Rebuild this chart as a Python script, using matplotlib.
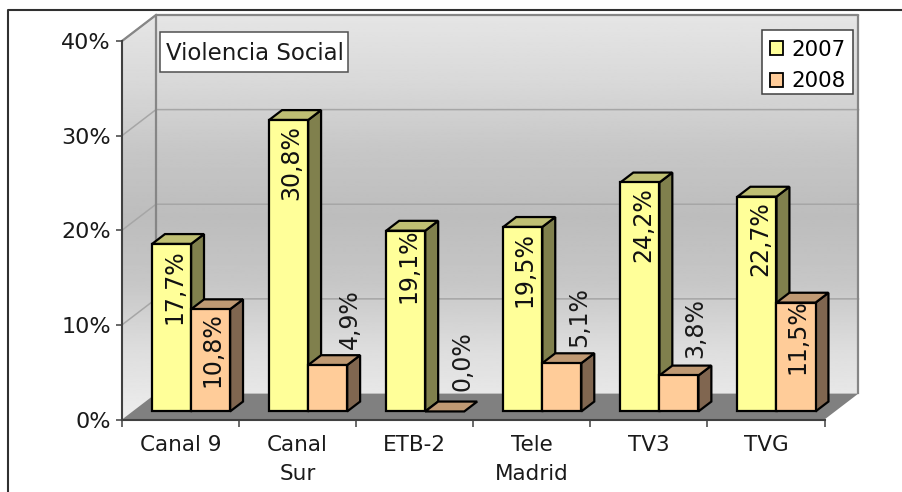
import matplotlib
matplotlib.use('Agg')
import matplotlib.pyplot as plt
import numpy as np
from matplotlib.lines import Line2D
from matplotlib.patches import Patch, Polygon, Rectangle

categories = ['Canal 9', 'Canal\nSur', 'ETB-2', 'Tele\nMadrid', 'TV3', 'TVG']
values_2007 = [17.7, 30.8, 19.1, 19.5, 24.2, 22.7]
values_2008 = [10.8, 4.9, 0.0, 5.1, 3.8, 11.5]
y_ticks = [0, 10, 20, 30, 40]
wall_shades = [0.90, 0.85, 0.78, 0.74, 0.78, 0.87, 0.93]

# hand placed label offsets in pixels, the original labels were moved by hand
nudge_2007 = [(0, 0), (0, 0), (0, 7), (-1, 0), (0, 0), (0, 0)]
nudge_2008 = [(0, 6), (3, 0), (-1, 4), (-2, 0), (-3, 1), (-1, 12)]

W, H = 902, 492
DX, DY = 34 / 117.1, 26 / 9.46    # depth of the box in data units
BAR_W = 1 / 3


def proj(x, y, d):
    return (x + d * DX, y + d * DY)


def box_poly(ax, pts, color, z, ec='none', lw=0):
    p = Polygon(pts, closed=True, facecolor=color, edgecolor=ec, linewidth=lw,
                joinstyle='miter', zorder=z, clip_on=False)
    ax.add_patch(p)
    return p


def bar3d(ax, x0, val, cols, z):
    x1 = x0 + BAR_W
    d0, d1 = 0.31, 0.69
    kw = dict(ec='black', lw=1.6)
    if val > 0:
        box_poly(ax, [proj(x1, 0, d0), proj(x1, 0, d1), proj(x1, val, d1), proj(x1, val, d0)], cols[2], z, **kw)
    box_poly(ax, [proj(x0, val, d0), proj(x1, val, d0), proj(x1, val, d1), proj(x0, val, d1)], cols[1], z, **kw)
    if val > 0:
        box_poly(ax, [proj(x0, 0, d0), proj(x1, 0, d0), proj(x1, val, d0), proj(x0, val, d0)], cols[0], z, **kw)


fig = plt.figure(figsize=(W / 100, H / 100), dpi=100)
ax = fig.add_axes([122 / W, (H - 419.5) / H, 702.5 / W, 378.5 / H])
ax.patch.set_visible(False)

# walls with the grey gradient
stops = np.linspace(0, 1, len(wall_shades))
grad = np.interp(np.linspace(0, 1, 256), stops, wall_shades).reshape(-1, 1)
back = [proj(0, 0, 1), proj(6, 0, 1), proj(6, 40, 1), proj(0, 40, 1)]
side = [proj(0, 0, 0), proj(0, 0, 1), proj(0, 40, 1), proj(0, 40, 0)]
for pts in (back, side):
    clip = Polygon(pts, closed=True, transform=ax.transData, facecolor='none', edgecolor='none')
    ax.add_patch(clip)
    im = ax.imshow(grad, cmap='gray', vmin=0, vmax=1, aspect='auto', interpolation='bilinear',
                   extent=[0, 6 + DX, 0, 40 + DY], zorder=1)
    im.set_clip_path(clip)
    im.set_clip_box(fig.bbox)

# floor
box_poly(ax, [proj(0, 0, 0), proj(6, 0, 0), proj(6, 0, 1), proj(0, 0, 1)], '#808080', 2)

# grid lines and wall borders
for t in y_ticks[1:]:
    ax.plot(*zip(proj(0, t, 0), proj(0, t, 1), proj(6, t, 1)), color='#a6a6a6', lw=1.1, zorder=2, clip_on=False)
ax.plot(*zip(proj(0, 0, 1), proj(0, 40, 1), proj(6, 40, 1), proj(6, 0, 1)), color='#868686', lw=1.6, zorder=2, clip_on=False)
ax.plot(*zip(proj(0, 40, 0), proj(0, 40, 1)), color='#868686', lw=1.6, zorder=2, clip_on=False)

yellow = ('#FFFF99', '#BFBF73', '#80804D')
orange = ('#FFCC99', '#BF9973', '#806650')
label_size = 17
for i in range(len(categories)):
    x0 = i + 1 / 6
    bar3d(ax, x0, values_2007[i], yellow, 3 + i)
    bar3d(ax, x0 + BAR_W, values_2008[i], orange, 3 + i + 0.5)

    nx, ny = nudge_2007[i]
    ax.annotate(f'{values_2007[i]:.1f}%'.replace('.', ','), proj(x0 + BAR_W / 2, values_2007[i], 0.31),
                xytext=(3 + nx, -5 + ny), textcoords='offset pixels', rotation=90, ha='center', va='top',
                fontsize=label_size, color='#111111', zorder=20, annotation_clip=False)
    v = values_2008[i]
    nx, ny = nudge_2008[i]
    txt = f'{v:.1f}%'.replace('.', ',')
    if v > 6:
        ax.annotate(txt, proj(x0 + 1.5 * BAR_W, v, 0.31), xytext=(2 + nx, -9 + ny), textcoords='offset pixels',
                    rotation=90, ha='center', va='top', fontsize=label_size, color='#111111', zorder=20,
                    annotation_clip=False)
    else:
        ax.annotate(txt, proj(x0 + 1.5 * BAR_W, v, 0.31), xytext=(19 + nx, 16 + ny), textcoords='offset pixels',
                    rotation=90, ha='center', va='bottom', fontsize=label_size, color='#1a1a1a', zorder=20,
                    annotation_clip=False)

ax.set_xlim(0, 6)
ax.set_ylim(0, 40)
ax.set_yticks(y_ticks)
ax.set_yticklabels([f'{t}%' for t in y_ticks], fontsize=16, color='#1a1a1a')
ax.set_xticks(range(7))
ax.set_xticklabels([])
ax.set_xticks(np.arange(len(categories)) + 0.5, minor=True)
ax.set_xticklabels(categories, minor=True, fontsize=15.5, color='#1a1a1a', linespacing=1.55, va='top')
ax.tick_params(axis='x', which='minor', length=0, pad=11.5)
ax.tick_params(axis='x', which='major', length=5, width=1.1, color='#404040')
ax.tick_params(axis='y', length=4.5, width=1.1, color='#404040', pad=3.5)
for s in ('top', 'right'):
    ax.spines[s].set_visible(False)
for s in ('left', 'bottom'):
    ax.spines[s].set_color('#404040')
    ax.spines[s].set_linewidth(1.5)
    ax.spines[s].set_zorder(15)

# title box
title_box = Rectangle((160 / W, (H - 72) / H), 188 / W, 40 / H, transform=fig.transFigure, facecolor='white',
                      edgecolor='#505050', linewidth=1.1, zorder=29, clip_on=False)
ax.add_patch(title_box)
ax.text(254.5 / W, (H - 53.5) / H, 'Violencia Social', transform=fig.transFigure, fontsize=16.5, ha='center', va='center',
        color='#1a1a1a', zorder=30)

# legend box drawn apart, the text sits low in it
legend_box = Rectangle((762 / W, (H - 94) / H), 91 / W, 64 / H, transform=fig.transFigure, facecolor='white',
                       edgecolor='#404040', linewidth=1.1, zorder=29, clip_on=False)
ax.add_patch(legend_box)
handles = [Patch(facecolor='#FFFF99', edgecolor='black', linewidth=1.3),
           Patch(facecolor='#FFCC99', edgecolor='black', linewidth=1.3)]
leg = ax.legend(handles, ['2007', '2008'], loc='upper right', bbox_to_anchor=(845.5 / W, (H - 39.5) / H),
                bbox_transform=fig.transFigure, fontsize=15.4, frameon=False, borderpad=0, handlelength=0.62,
                handleheight=0.62, handletextpad=0.38, labelspacing=0.55, borderaxespad=0)
leg.set_zorder(30)

# outer chart frame, open at right and bottom
fig.add_artist(Line2D([8 / W, 8 / W, 1], [0, (H - 10) / H, (H - 10) / H], color='#303030', lw=1.5))

fig.savefig('out.png', dpi=100)
